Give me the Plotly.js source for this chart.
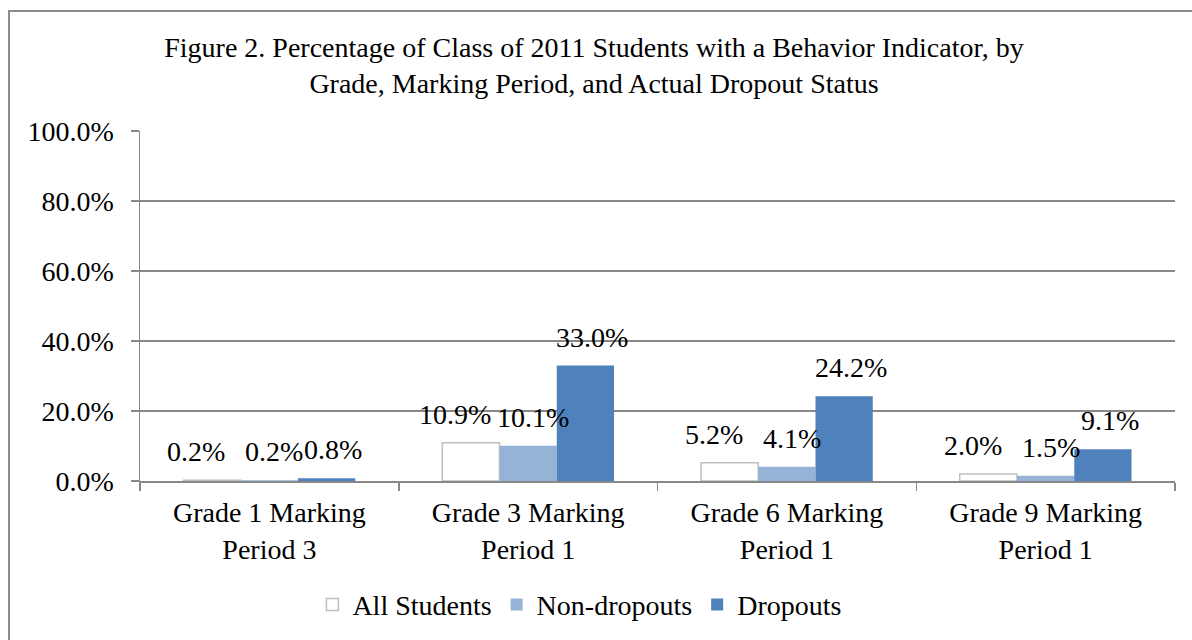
<!DOCTYPE html>
<html>
<head>
<meta charset="utf-8">
<script src="https://cdn.plot.ly/plotly-3.0.1.min.js"></script>
<style>
  html, body { margin: 0; padding: 0; width: 1192px; height: 640px; overflow: hidden; background: #fff; }
  #frame { position: absolute; left: 8px; top: 10px; width: 1200px; height: 660px; border: 2px solid #8c8c8c; box-sizing: border-box; }
  #chart { position: absolute; left: 0; top: 0; width: 1192px; height: 640px; }
</style>
</head>
<body>
<div id="frame"></div>
<div id="chart"></div>
<script>
const categories = ["Grade 1 Marking<br>Period 3", "Grade 3 Marking<br>Period 1", "Grade 6 Marking<br>Period 1", "Grade 9 Marking<br>Period 1"];
const seriesNames = ["All Students", "Non-dropouts", "Dropouts"];
const allStudents = [0.2, 10.9, 5.2, 2.0];
const nonDropouts = [0.2, 10.1, 4.1, 1.5];
const dropouts = [0.8, 33.0, 24.2, 9.1];
const yTicks = [0, 20, 40, 60, 80, 100];

const FONT = "Liberation Serif";
const FS = 28;
const seriesValues = [allStudents, nonDropouts, dropouts];
const fills = ["#ffffff", "#95b3d7", "#4f81bd"];
const outlines = ["#bfbfbf", "#95b3d7", "#4f81bd"];

const traces = seriesValues.map((vals, i) => ({
  type: "bar",
  name: seriesNames[i],
  x: categories,
  y: vals,
  marker: { color: fills[i], line: { color: outlines[i], width: i === 0 ? 1.5 : 0 } },
  hoverinfo: "skip"
}));

// data labels as annotations (Excel-style positions above bars)
const barW = 57;
const labelShift = [-16, 5, 7];
const annotations = [];
seriesValues.forEach((vals, i) => {
  vals.forEach((v, j) => {
    annotations.push({
      x: categories[j], y: v, xref: "x", yref: "y",
      text: v.toFixed(1) + "%",
      showarrow: false,
      xanchor: "center", yanchor: "bottom",
      xshift: (i - 1) * barW + labelShift[i],
      yshift: 11,
      font: { family: FONT, size: FS, color: "#000" }
    });
  });
});

const layout = {
  width: 1192, height: 640,
  paper_bgcolor: "rgba(0,0,0,0)",
  plot_bgcolor: "rgba(0,0,0,0)",
  margin: { l: 140, r: 17, t: 131, b: 158 },
  title: {
    text: "Figure 2. Percentage of Class of 2011 Students with a Behavior Indicator, by<br>Grade, Marking Period, and Actual Dropout Status",
    font: { family: FONT, size: FS, color: "#000" },
    x: 594 / 1192, xanchor: "center", xref: "container",
    y: 1 - 57 / 640, yanchor: "middle", yref: "container"
  },
  barmode: "group",
  bargap: 0.336,
  bargroupgap: 0,
  showlegend: true,
  legend: {
    orientation: "h",
    x: 0.425, xanchor: "center",
    y: -0.35, yanchor: "middle",
    font: { family: FONT, size: FS, color: "#000" },
    itemwidth: 30,
    traceorder: "normal"
  },
  xaxis: {
    type: "category",
    showgrid: false,
    showline: true, linecolor: "#888888", linewidth: 1.5,
    ticks: "outside", tickson: "boundaries", ticklen: 8, tickcolor: "#888888", tickwidth: 1.5,
    tickfont: { family: FONT, size: FS, color: "#000" },
    ticklabelstandoff: 6,
    fixedrange: true
  },
  yaxis: {
    range: [0, 100],
    tickvals: yTicks,
    ticktext: yTicks.map(t => t.toFixed(1) + "%"),
    showgrid: true, gridcolor: "#888888", gridwidth: 1.5,
    zeroline: false,
    showline: true, linecolor: "#888888", linewidth: 1.5,
    ticks: "outside", ticklen: 8, tickcolor: "#888888", tickwidth: 1.5,
    tickfont: { family: FONT, size: FS, color: "#000" },
    ticklabelstandoff: 11,
    fixedrange: true
  },
  annotations: annotations,
  font: { family: FONT, color: "#000" }
};

Plotly.newPlot("chart", traces, layout, { displayModeBar: false, staticPlot: true });
</script>
</body>
</html>
